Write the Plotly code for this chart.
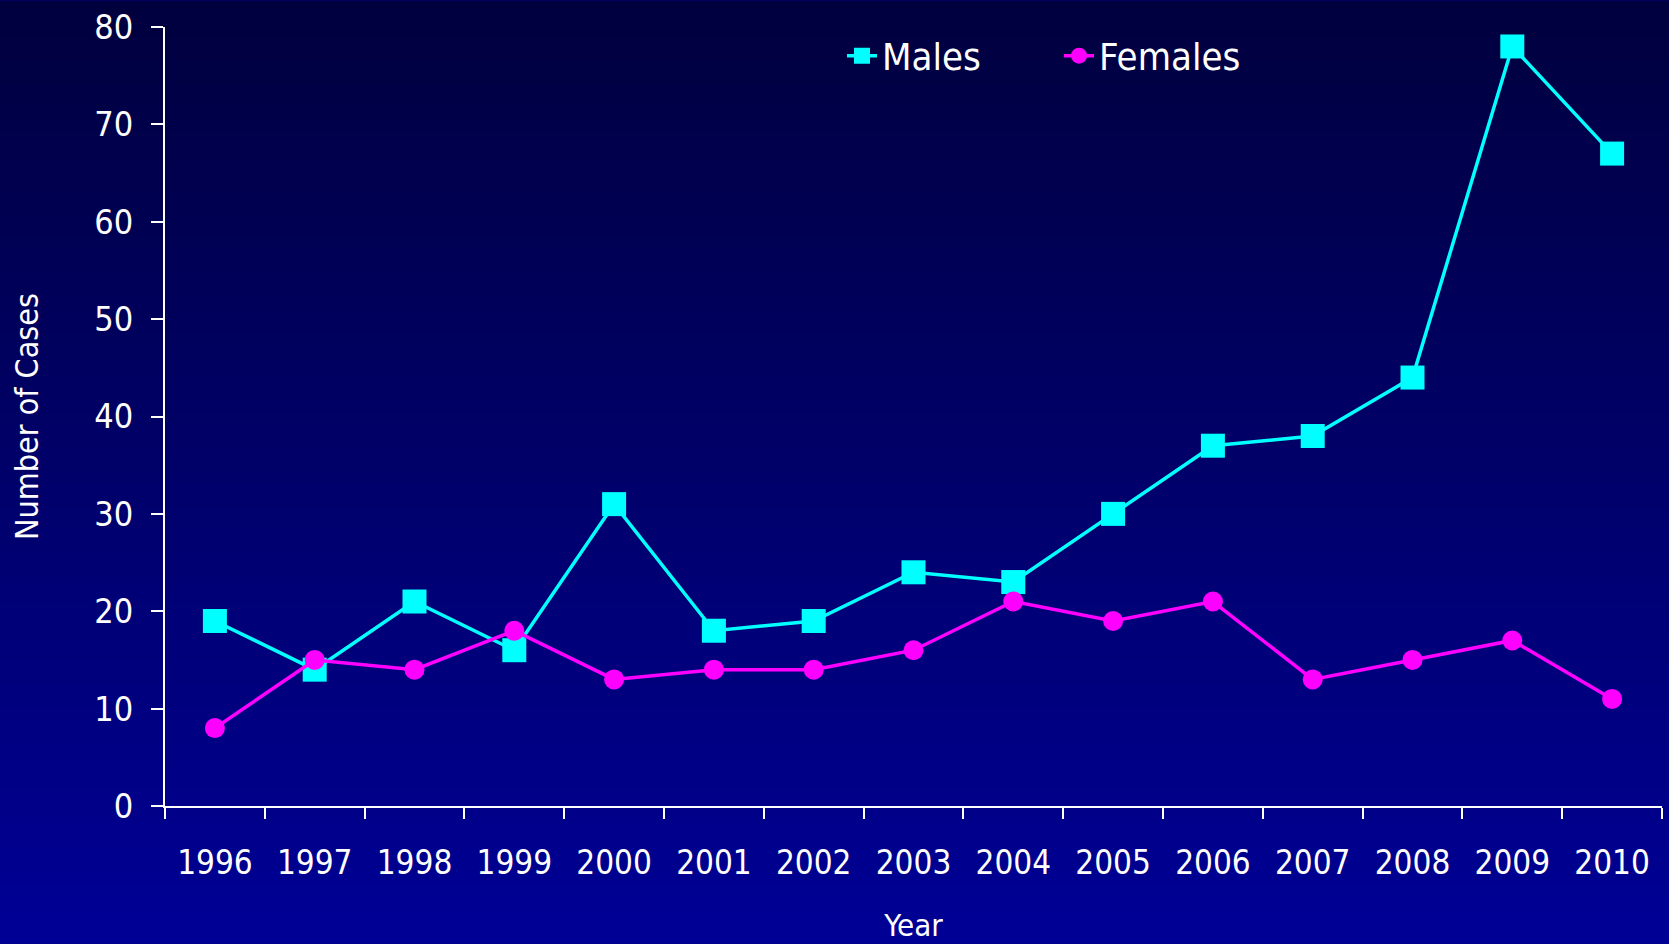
import plotly.graph_objects as go

years = ["1996", "1997", "1998", "1999", "2000", "2001", "2002", "2003",
         "2004", "2005", "2006", "2007", "2008", "2009", "2010"]
males = [19, 14, 21, 16, 31, 18, 19, 24, 23, 30, 37, 38, 44, 78, 67]
females = [8, 15, 14, 18, 13, 14, 14, 16, 21, 19, 21, 13, 15, 17, 11]
y_ticks = [0, 10, 20, 30, 40, 50, 60, 70, 80]

W, H = 1669, 944
ML, MR, MT, MB = 165, 7, 26, 137
PW, PH = W - ML - MR, H - MT - MB

FONT = "Liberation Sans Narrow, DejaVu Sans Condensed, Arial Narrow, sans-serif"

fig = go.Figure()
fig.add_trace(go.Scatter(
    x=years, y=males, name="Males", mode="lines+markers",
    line=dict(color="#00FFFF", width=3.5),
    marker=dict(symbol="square", size=24, color="#00FFFF"),
))
fig.add_trace(go.Scatter(
    x=years, y=females, name="Females", mode="lines+markers",
    line=dict(color="#FF00FF", width=3.5),
    marker=dict(symbol="circle", size=20, color="#FF00FF"),
))

# vertical gradient background
shapes = []
n = 80
top = (0, 0, 62)
bot = (0, 0, 150)
for i in range(n):
    p0 = H * i / n
    p1 = H * (i + 1) / n + 1
    t = (i + 0.5) / n
    c = tuple(int(round(top[k] + (bot[k] - top[k]) * t)) for k in range(3))
    shapes.append(dict(
        type="rect", xref="paper", yref="paper", layer="below",
        x0=-ML / PW, x1=(W - ML) / PW,
        y0=(H - MB - p1) / PH, y1=(H - MB - p0) / PH,
        line=dict(width=0), fillcolor="rgb(%d,%d,%d)" % c,
    ))

fig.update_layout(
    width=W, height=H,
    margin=dict(l=ML, r=MR, t=MT, b=MB),
    paper_bgcolor="rgb(0,0,100)",
    plot_bgcolor="rgba(0,0,0,0)",
    shapes=shapes,
    font=dict(family=FONT, color="white", size=33),
    showlegend=True,
    legend=dict(
        orientation="h", x=(842 - ML) / PW, xanchor="left",
        y=(H - MB - 55) / PH, yanchor="middle",
        bgcolor="rgba(0,0,0,0)", font=dict(size=38, color="white"),
        entrywidth=172, entrywidthmode="pixels", traceorder="normal",
    ),
    xaxis=dict(
        type="category", range=[-0.5, 14.5],
        showline=True, linecolor="white", linewidth=2,
        ticks="outside", tickson="boundaries", ticklen=11, tickwidth=2,
        tickcolor="white", showgrid=False, zeroline=False,
        ticklabelstandoff=26,
        tickfont=dict(size=33, color="white"),
        title=dict(text="Year", font=dict(size=31, color="white"), standoff=34),
    ),
    yaxis=dict(
        range=[0, 80], tickvals=y_ticks,
        showline=True, linecolor="white", linewidth=2,
        ticks="outside", ticklen=12, tickwidth=2, tickcolor="white",
        showgrid=False, zeroline=False,
        ticklabelstandoff=11,
        tickfont=dict(size=34, color="white"),
        title=dict(text="Number of Cases", font=dict(size=32, color="white"), standoff=46),
    ),
)

fig.write_html("out.html", config={"displayModeBar": False},
               post_script="document.body.style.margin='0';")
